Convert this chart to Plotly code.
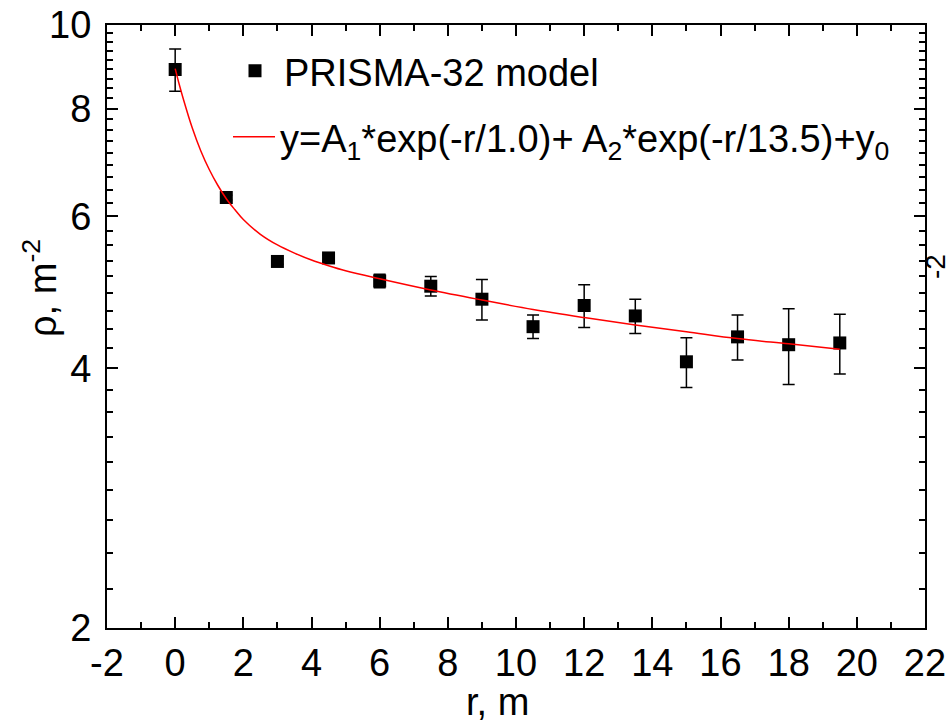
import numpy as np
import plotly.graph_objects as go

# ---- data ----
r_vals = [0, 1.5, 3, 4.5, 6, 7.5, 9, 10.5, 12, 13.5, 15, 16.5, 18, 19.5]
rho_vals = [8.88, 6.31, 5.32, 5.37, 5.05, 4.98, 4.81, 4.47, 4.73, 4.60, 4.07, 4.35, 4.26, 4.28]
rho_err = [0.50, 0.04, 0.04, 0.04, 0.09, 0.13, 0.26, 0.14, 0.27, 0.21, 0.27, 0.26, 0.43, 0.34]

fit_r = [0, 0.1, 0.25, 0.5, 0.75, 1.0, 1.25, 1.5, 1.75, 2.0, 2.5, 3.0, 3.5, 4.0, 4.5, 5.0,
         6.0, 7.5, 9.0, 10.5, 12.0, 13.5, 15.0, 16.5, 18.0, 19.5]
fit_rho = [8.90, 8.59, 8.18, 7.60, 7.15, 6.80, 6.52, 6.29, 6.11, 5.95, 5.72, 5.56, 5.44, 5.34, 5.26, 5.19,
           5.08, 4.93, 4.80, 4.68, 4.58, 4.49, 4.41, 4.33, 4.27, 4.21]

x_ticks = [-2, 0, 2, 4, 6, 8, 10, 12, 14, 16, 18, 20, 22]
y_ticks = [2, 4, 6, 8, 10]

FONT = "Liberation Sans, Arial, sans-serif"
FS = 38

W, H = 947, 724
L, R, T, B = 107, 925, 25, 628


def px(x):
    return (x - L) / (R - L)


def py(y):
    return (B - y) / (B - T)


y_minor = [a + (b - a) * k / 9 for a, b in zip(y_ticks[:-1], y_ticks[1:]) for k in range(1, 9)]

fig = go.Figure()

fig.add_trace(go.Scatter(
    x=r_vals, y=rho_vals, mode="markers", name="PRISMA-32 model",
    marker=dict(symbol="square", size=13, color="black", line=dict(width=0)),
    error_y=dict(type="data", array=rho_err, visible=True, color="black", thickness=1.5, width=6),
    legend="legend",
))

fig.add_trace(go.Scatter(
    x=fit_r, y=fit_rho, mode="lines", line=dict(color="red", width=1.5, shape="spline"),
    name="y=A<sub>1</sub>*exp(-r/1.0)+ A<sub>2</sub>*exp(-r/13.5)+y<sub>0</sub>",
    legend="legend2",
))

axis_common = dict(
    showline=True, linecolor="black", linewidth=2, mirror="ticks",
    ticks="inside", ticklen=11, tickwidth=2, tickcolor="black",
    showgrid=False, zeroline=False, automargin=False,
    tickfont=dict(family=FONT, size=FS, color="black"),
)

fig.update_xaxes(
    range=[-2, 22], tickvals=x_ticks, ticktext=[str(v) for v in x_ticks],
    minor=dict(dtick=1, ticks="inside", ticklen=6, tickwidth=2, tickcolor="black"),
    ticklabelstandoff=0,
    **axis_common,
)
fig.update_yaxes(
    type="log", range=[np.log10(2), 1], tickvals=y_ticks, ticktext=[str(v) for v in y_ticks],
    minor=dict(tickmode="array", tickvals=y_minor, ticks="inside", ticklen=6, tickwidth=2, tickcolor="black"),
    ticklabelstandoff=6,
    **axis_common,
)

legend_common = dict(
    bgcolor="rgba(0,0,0,0)", borderwidth=0,
    font=dict(family=FONT, size=FS, color="black"),
    xanchor="left", yanchor="middle", xref="paper", yref="paper",
)

fig.update_layout(
    width=W, height=H,
    margin=dict(l=L, r=W - R, t=T, b=H - B, autoexpand=False),
    paper_bgcolor="white", plot_bgcolor="white",
    showlegend=True,
    legend=dict(x=px(226), y=py(71), itemwidth=48, **legend_common),
    legend2=dict(x=px(228), y=py(137), itemwidth=42, **legend_common),
    annotations=[
        dict(text="r, m", x=px(497), y=py(702), xref="paper", yref="paper",
             showarrow=False, xanchor="center", yanchor="middle",
             font=dict(family=FONT, size=FS, color="black")),
        dict(text="ρ, m<sup>-2</sup>", x=px(40), y=py(288), xref="paper", yref="paper",
             showarrow=False, xanchor="center", yanchor="middle", textangle=-90,
             font=dict(family=FONT, size=FS, color="black")),
        dict(text="-2", x=px(935), y=py(266), xref="paper", yref="paper",
             showarrow=False, xanchor="center", yanchor="middle", textangle=-90,
             font=dict(family=FONT, size=28, color="black")),
    ],
)

fig.write_html("out.html")
